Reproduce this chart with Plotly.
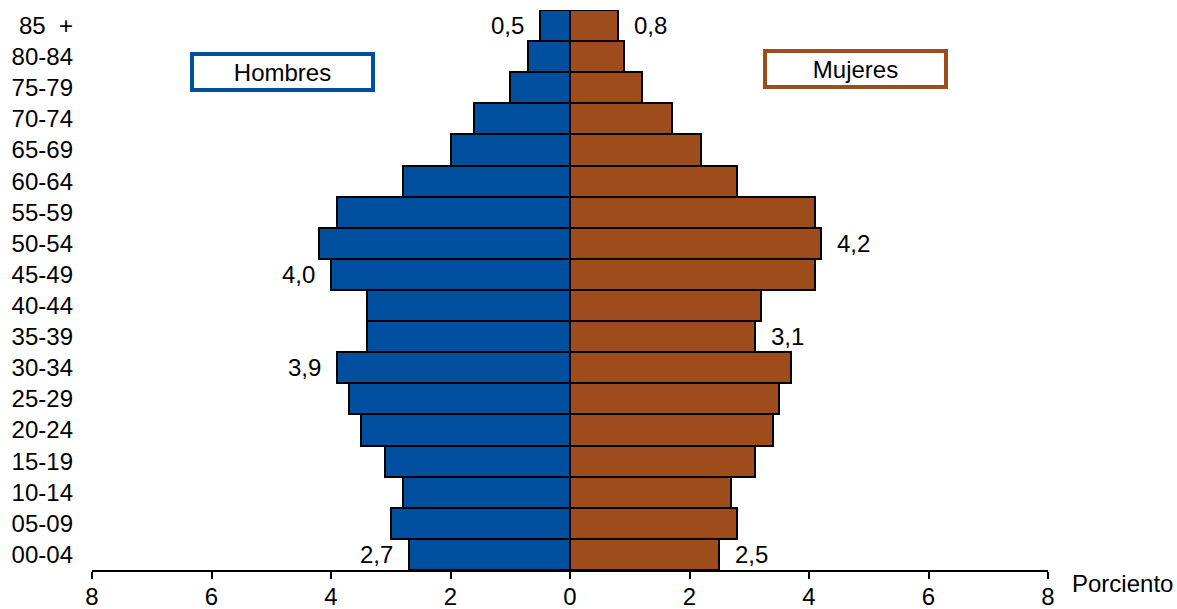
import plotly.graph_objects as go

age_groups = ["00-04", "05-09", "10-14", "15-19", "20-24", "25-29", "30-34", "35-39",
              "40-44", "45-49", "50-54", "55-59", "60-64", "65-69", "70-74", "75-79",
              "80-84", "85  +"]
hombres = [2.7, 3.0, 2.8, 3.1, 3.5, 3.7, 3.9, 3.4, 3.4, 4.0, 4.2, 3.9, 2.8, 2.0, 1.6, 1.0, 0.7, 0.5]
mujeres = [2.5, 2.8, 2.7, 3.1, 3.4, 3.5, 3.7, 3.1, 3.2, 4.1, 4.2, 4.1, 2.8, 2.2, 1.7, 1.2, 0.9, 0.8]
tick_vals = [-8, -6, -4, -2, 0, 2, 4, 6, 8]
tick_text = ["8", "6", "4", "2", "0", "2", "4", "6", "8"]

# labelled values: (group, value text)
labels_h = {"85  +": "0,5", "45-49": "4,0", "30-34": "3,9", "00-04": "2,7"}
labels_m = {"85  +": "0,8", "50-54": "4,2", "35-39": "3,1", "00-04": "2,5"}

BLUE = "#00509F"
BROWN = "#9E4C1C"
FONT = "Liberation Sans, Arial, sans-serif"
FS = 24

fig = go.Figure()
fig.add_trace(go.Bar(y=age_groups, x=[-v for v in hombres], orientation="h",
                     marker=dict(color=BLUE, line=dict(color="black", width=2)),
                     name="Hombres", hoverinfo="skip"))
fig.add_trace(go.Bar(y=age_groups, x=mujeres, orientation="h",
                     marker=dict(color=BROWN, line=dict(color="black", width=2)),
                     name="Mujeres", hoverinfo="skip"))

annotations = []
for g, t in labels_h.items():
    v = hombres[age_groups.index(g)]
    annotations.append(dict(x=-v, y=g, text=t, showarrow=False, xanchor="right",
                            xshift=-14, font=dict(size=FS, color="black", family=FONT)))
for g, t in labels_m.items():
    v = mujeres[age_groups.index(g)]
    annotations.append(dict(x=v, y=g, text=t, showarrow=False, xanchor="left",
                            xshift=14, font=dict(size=FS, color="black", family=FONT)))

annotations.append(dict(x=-4.82, y=0.890, xref="x", yref="paper", text="Hombres",
                        showarrow=False, width=177, height=32, borderwidth=4,
                        xanchor="center", yanchor="middle",
                        bordercolor=BLUE, bgcolor="white", borderpad=0,
                        font=dict(size=FS, color="black", family=FONT)))
annotations.append(dict(x=4.77, y=0.894, xref="x", yref="paper", text="Mujeres",
                        showarrow=False, width=177, height=32, borderwidth=4,
                        xanchor="center", yanchor="middle",
                        bordercolor=BROWN, bgcolor="white", borderpad=0,
                        font=dict(size=FS, color="black", family=FONT)))
annotations.append(dict(x=1, y=0, xref="paper", yref="paper", text="Porciento",
                        showarrow=False, xanchor="left", yanchor="top", xshift=22, yshift=2,
                        font=dict(size=FS, color="black", family=FONT)))

fig.update_layout(
    width=1177, height=609,
    margin=dict(l=92, r=129, t=10, b=39),
    barmode="relative", bargap=0,
    plot_bgcolor="white", paper_bgcolor="white",
    showlegend=False,
    font=dict(family=FONT, size=FS, color="black"),
    annotations=annotations,
    xaxis=dict(range=[-8, 8], tickvals=tick_vals, ticktext=tick_text,
               showgrid=False, zeroline=False, showline=True, linecolor="black",
               linewidth=2, ticks="outside", ticklen=7, tickwidth=2, tickcolor="black",
               automargin=False, ticklabelstandoff=-3,
               tickfont=dict(size=FS, family=FONT, color="black"), fixedrange=True),
    yaxis=dict(type="category", categoryorder="array", categoryarray=age_groups,
               range=[-0.5, 17.5], automargin=False,
               showgrid=False, zeroline=False, showline=False, ticks="",
               ticklabelstandoff=18,
               tickfont=dict(size=FS, family=FONT, color="black"), fixedrange=True),
)

fig.write_html("out.html", config={"displayModeBar": False},
               post_script="document.body.style.margin='0';document.body.style.overflow='hidden';")
